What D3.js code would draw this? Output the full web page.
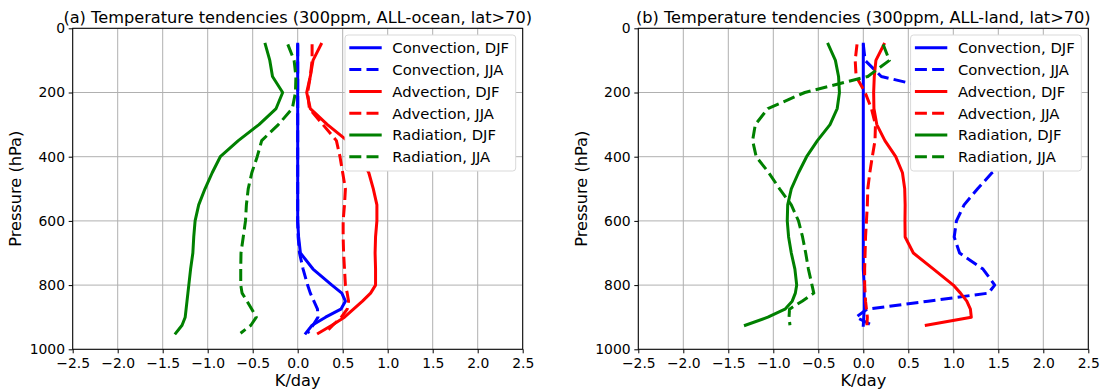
<!DOCTYPE html>
<html lang="en">
<head>
  <meta charset="UTF-8">
  <title>Temperature tendencies</title>
  <script src="https://d3js.org/d3.v7.min.js"></script>
  <style>
    body { margin: 0; background: #fff; }
    text { font-family: "DejaVu Sans", sans-serif; fill: #000; }
  </style>
</head>
<body>
<div id="chart"></div>
<script>
  // pressure levels (hPa) shared by all profiles
  const pressure = [50, 100, 150, 200, 250, 300, 350, 400, 450, 500, 550, 600, 650, 700, 750, 800, 825, 850, 875, 900, 925, 950];

  // (a) ALL-ocean, K/day
  const convDJF_ocean = [0, 0, 0, 0, 0, 0, 0, 0, 0, 0, 0, 0, 0.01, 0.03, 0.17, 0.38, 0.49, 0.53, 0.48, 0.31, 0.16, 0.09];
  const convJJA_ocean = [0, 0, 0, 0, 0, 0, 0, 0, 0, 0, 0, 0, 0.005, 0.02, 0.06, 0.11, 0.14, 0.18, 0.22, 0.225, 0.17, 0.11];
  const advDJF_ocean = [0.26, 0.17, 0.14, 0.1, 0.14, 0.33, 0.55, 0.7, 0.79, 0.84, 0.88, 0.88, 0.865, 0.86, 0.865, 0.865, 0.81, 0.72, 0.62, 0.52, 0.38, 0.23];
  const advJJA_ocean = [0.16, 0.16, 0.14, 0.11, 0.13, 0.28, 0.43, 0.47, 0.5, 0.53, 0.52, 0.505, 0.505, 0.51, 0.52, 0.53, 0.55, 0.565, 0.55, 0.485, 0.39, 0.3];
  const radDJF_ocean = [-0.36, -0.31, -0.28, -0.167, -0.24, -0.43, -0.66, -0.86, -0.95, -1.03, -1.1, -1.14, -1.155, -1.165, -1.19, -1.21, -1.22, -1.23, -1.24, -1.25, -1.285, -1.355];
  const radJJA_ocean = [-0.11, -0.04, -0.02, -0.025, -0.06, -0.215, -0.4, -0.45, -0.51, -0.55, -0.57, -0.58, -0.605, -0.63, -0.633, -0.633, -0.618, -0.563, -0.51, -0.46, -0.52, -0.635];

  // (b) ALL-land, K/day (no 950 hPa level)
  const convDJF_land = [0, 0, 0, 0, 0, 0, 0, 0, 0, 0, 0, 0, 0, 0, 0, 0.01, 0.01, 0.01, 0.01, 0.005, 0, null];
  const convJJA_land = [0, 0.02, 0.2, 0.95, 1.3, 1.6, 1.75, 1.7, 1.43, 1.27, 1.12, 1.035, 1.01, 1.07, 1.33, 1.46, 1.39, 0.72, 0.04, -0.08, 0.1, null];
  const advDJF_land = [0.23, 0.14, 0.122, 0.115, 0.118, 0.15, 0.24, 0.36, 0.435, 0.46, 0.465, 0.463, 0.465, 0.556, 0.78, 1.0, 1.08, 1.15, 1.19, 1.2, 0.7, null];
  const advJJA_land = [-0.07, -0.09, -0.08, 0.02, 0.09, 0.135, 0.13, 0.1, 0.072, 0.05, 0.045, 0.035, 0.025, 0.02, 0.015, 0.015, 0.02, 0.025, 0.035, 0.045, 0.04, null];
  const radDJF_land = [-0.39, -0.31, -0.275, -0.265, -0.29, -0.37, -0.51, -0.63, -0.72, -0.8, -0.84, -0.845, -0.83, -0.8, -0.76, -0.74, -0.755, -0.79, -0.87, -1.06, -1.31, null];
  const radJJA_land = [0.22, 0.29, 0.05, -0.65, -1.06, -1.2, -1.23, -1.19, -1.05, -0.93, -0.8, -0.72, -0.675, -0.64, -0.61, -0.57, -0.55, -0.68, -0.82, -0.825, -0.815, null];

  const seriesNames = ["Convection, DJF", "Convection, JJA", "Advection, DJF", "Advection, JJA", "Radiation, DJF", "Radiation, JJA"];
  const xTicks = [-2.5, -2.0, -1.5, -1.0, -0.5, 0.0, 0.5, 1.0, 1.5, 2.0, 2.5];
  const yTicks = [0, 200, 400, 600, 800, 1000];

  const colors = ["#0000ff", "#0000ff", "#ff0000", "#ff0000", "#008000", "#008000"];
  const dashed = [false, true, false, true, false, true];

  const panels = [
    { left: 72.7, title: "(a) Temperature tendencies (300ppm, ALL-ocean, lat>70)",
      series: [convDJF_ocean, convJJA_ocean, advDJF_ocean, advJJA_ocean, radDJF_ocean, radJJA_ocean] },
    { left: 638.3, title: "(b) Temperature tendencies (300ppm, ALL-land, lat>70)",
      series: [convDJF_land, convJJA_land, advDJF_land, advJJA_land, radDJF_land, radJJA_land] }
  ];

  const width = 1102, height = 391;
  const plotTop = 28.3, plotW = 450, plotH = 321;

  const svg = d3.select("#chart")
    .append("svg")
    .attr("width", width)
    .attr("height", height);

  svg.append("rect").attr("width", width).attr("height", height).attr("fill", "#fff");

  panels.forEach(p => {
    const x = d3.scaleLinear().domain([-2.5, 2.5]).range([p.left, p.left + plotW]);
    const y = d3.scaleLinear().domain([0, 1000]).range([plotTop, plotTop + plotH]);
    const g = svg.append("g");

    // grid
    g.selectAll(".vgrid").data(xTicks).enter().append("line")
      .attr("x1", d => x(d)).attr("x2", d => x(d))
      .attr("y1", plotTop).attr("y2", plotTop + plotH)
      .attr("stroke", "#b0b0b0").attr("stroke-width", 1);
    g.selectAll(".hgrid").data(yTicks).enter().append("line")
      .attr("x1", p.left).attr("x2", p.left + plotW)
      .attr("y1", d => y(d)).attr("y2", d => y(d))
      .attr("stroke", "#b0b0b0").attr("stroke-width", 1);

    // profiles
    const line = d3.line()
      .defined(d => d[0] != null)
      .x(d => x(d[0]))
      .y(d => y(d[1]));

    p.series.forEach((vals, i) => {
      g.append("path")
        .datum(vals.map((v, k) => [v, pressure[k]]))
        .attr("d", line)
        .attr("fill", "none")
        .attr("stroke", colors[i])
        .attr("stroke-width", 3)
        .attr("stroke-linejoin", "round")
        .attr("stroke-linecap", dashed[i] ? "butt" : "square")
        .attr("stroke-dasharray", dashed[i] ? "12,5.2" : null);
    });

    // axes
    const xAxis = g.append("g")
      .attr("transform", "translate(0," + (plotTop + plotH) + ")")
      .call(d3.axisBottom(x).tickValues(xTicks).tickFormat(d3.format(".1f"))
        .tickSizeInner(4).tickSizeOuter(0).tickPadding(4.5));
    const yAxis = g.append("g")
      .attr("transform", "translate(" + p.left + ",0)")
      .call(d3.axisLeft(y).tickValues(yTicks).tickFormat(d3.format("d"))
        .tickSizeInner(4).tickSizeOuter(0).tickPadding(3.7));
    [xAxis, yAxis].forEach(a => {
      a.attr("font-size", 13.9).attr("font-family", "DejaVu Sans");
      a.select(".domain").remove();
      a.selectAll(".tick line").attr("stroke", "#000");
    });

    g.append("rect")
      .attr("x", p.left).attr("y", plotTop)
      .attr("width", plotW).attr("height", plotH)
      .attr("fill", "none").attr("stroke", "#000").attr("stroke-width", 1);

    // labels
    g.append("text")
      .attr("x", p.left + plotW / 2).attr("y", 23)
      .attr("text-anchor", "middle").style("font-size", "16.2px")
      .text(p.title);
    g.append("text")
      .attr("x", p.left + plotW / 2).attr("y", 386)
      .attr("text-anchor", "middle").style("font-size", "16.2px")
      .text("K/day");
    g.append("text")
      .attr("transform", "translate(" + (p.left - 51.5) + "," + (plotTop + plotH / 2) + ") rotate(-90)")
      .attr("text-anchor", "middle").style("font-size", "16.2px")
      .text("Pressure (hPa)");

    // legend (frame hides the profiles behind it)
    const lx = p.left + plotW - 177.7, ly = plotTop + 6.7;
    const leg = g.append("g");
    leg.append("rect")
      .attr("x", lx).attr("y", ly).attr("width", 170.7).attr("height", 136)
      .attr("rx", 3).attr("fill", "#fff")
      .attr("stroke", "#d9d9d9").attr("stroke-width", 1);
    seriesNames.forEach((name, i) => {
      const cy = ly + 12.8 + i * 21.8;
      leg.append("line")
        .attr("x1", lx + 4.3).attr("x2", lx + 36.7)
        .attr("y1", cy).attr("y2", cy)
        .attr("stroke", colors[i]).attr("stroke-width", 3)
        .attr("stroke-dasharray", dashed[i] ? "12,5.2" : null);
      leg.append("text")
        .attr("x", lx + 47.3).attr("y", cy + 5.3)
        .style("font-size", "14.8px")
        .text(name);
    });
  });
</script>
</body>
</html>
